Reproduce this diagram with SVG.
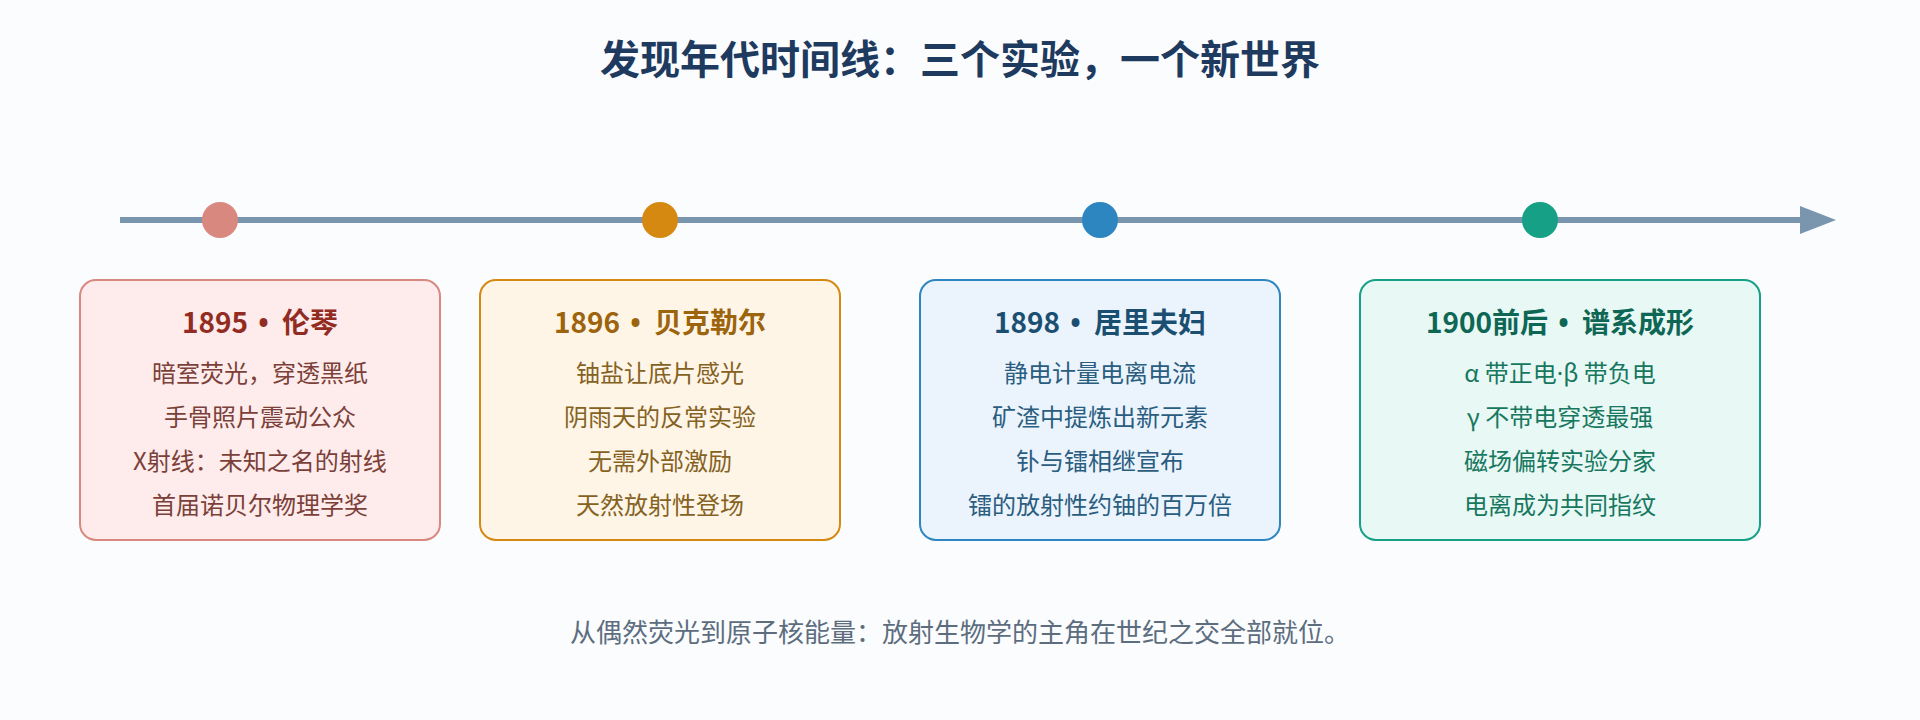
<svg xmlns="http://www.w3.org/2000/svg" width="1920" height="720" viewBox="0 0 1920 720">
<style>
text{font-family:"Noto Sans CJK SC","Liberation Sans",sans-serif;text-anchor:middle}
.title{font-size:40px;font-weight:700;fill:#1e3a5f}
.h{font-size:28px;font-weight:700}
.b{font-size:24px}
.cap{font-size:26px;fill:#5d6d7e}
.box{stroke-width:2}
.lat{font-family:"Noto Sans","Liberation Sans",sans-serif}
.sep{font-family:"Noto Sans","Liberation Sans",sans-serif;letter-spacing:3px}
</style>
<defs>
<marker id="arr" viewBox="0 0 36 28" refX="0" refY="14" markerWidth="36" markerHeight="28" markerUnits="userSpaceOnUse" orient="auto">
<polygon points="0,0 36,14 0,28" fill="#7a95ae"/>
</marker>
</defs>
<rect width="1920" height="720" fill="#fafcfe"/>
<text class="title" x="960" y="74">发现年代时间线：三个实验，一个新世界</text>
<g id="connectors">
<line x1="120" y1="220" x2="1800" y2="220" stroke="#7a95ae" stroke-width="6" marker-end="url(#arr)"/>
</g>
<g id="dots">
<circle cx="220" cy="220" r="18" fill="#d98880"/>
<circle cx="660" cy="220" r="18" fill="#d68910"/>
<circle cx="1100" cy="220" r="18" fill="#2e86c1"/>
<circle cx="1540" cy="220" r="18" fill="#16a085"/>
</g>
<g id="node1895">
<rect class="box" x="80" y="280" width="360" height="260" rx="16" fill="#fdeceb" stroke="#d98880"/>
<text class="h" x="260" y="333" fill="#922b21">1895<tspan class="sep"> • </tspan>伦琴</text>
<g class="b" fill="#7b4039">
<text x="260" y="382">暗室荧光，穿透黑纸</text>
<text x="260" y="426">手骨照片震动公众</text>
<text x="260" y="470">X射线：未知之名的射线</text>
<text x="260" y="514">首届诺贝尔物理学奖</text>
</g>
</g>
<g id="node1896">
<rect class="box" x="480" y="280" width="360" height="260" rx="16" fill="#fef5e7" stroke="#d68910"/>
<text class="h" x="660" y="333" fill="#9c640c">1896<tspan class="sep"> • </tspan>贝克勒尔</text>
<g class="b" fill="#85621f">
<text x="660" y="382">铀盐让底片感光</text>
<text x="660" y="426">阴雨天的反常实验</text>
<text x="660" y="470">无需外部激励</text>
<text x="660" y="514">天然放射性登场</text>
</g>
</g>
<g id="node1898">
<rect class="box" x="920" y="280" width="360" height="260" rx="16" fill="#ebf4fc" stroke="#2e86c1"/>
<text class="h" x="1100" y="333" fill="#1b4f72">1898<tspan class="sep"> • </tspan>居里夫妇</text>
<g class="b" fill="#2a5d80">
<text x="1100" y="382">静电计量电离电流</text>
<text x="1100" y="426">矿渣中提炼出新元素</text>
<text x="1100" y="470">钋与镭相继宣布</text>
<text x="1100" y="514">镭的放射性约铀的百万倍</text>
</g>
</g>
<g id="node1900">
<rect class="box" x="1360" y="280" width="400" height="260" rx="16" fill="#e8f8f4" stroke="#16a085"/>
<text class="h" x="1560" y="333" fill="#0e6655">1900前后<tspan class="sep"> • </tspan>谱系成形</text>
<g class="b" fill="#17775f">
<text x="1560" y="382">α 带正电<tspan class="lat">·</tspan>β 带负电</text>
<text x="1560" y="426">γ 不带电穿透最强</text>
<text x="1560" y="470">磁场偏转实验分家</text>
<text x="1560" y="514">电离成为共同指纹</text>
</g>
</g>
<text class="cap" x="960" y="642">从偶然荧光到原子核能量：放射生物学的主角在世纪之交全部就位。</text>
</svg>
